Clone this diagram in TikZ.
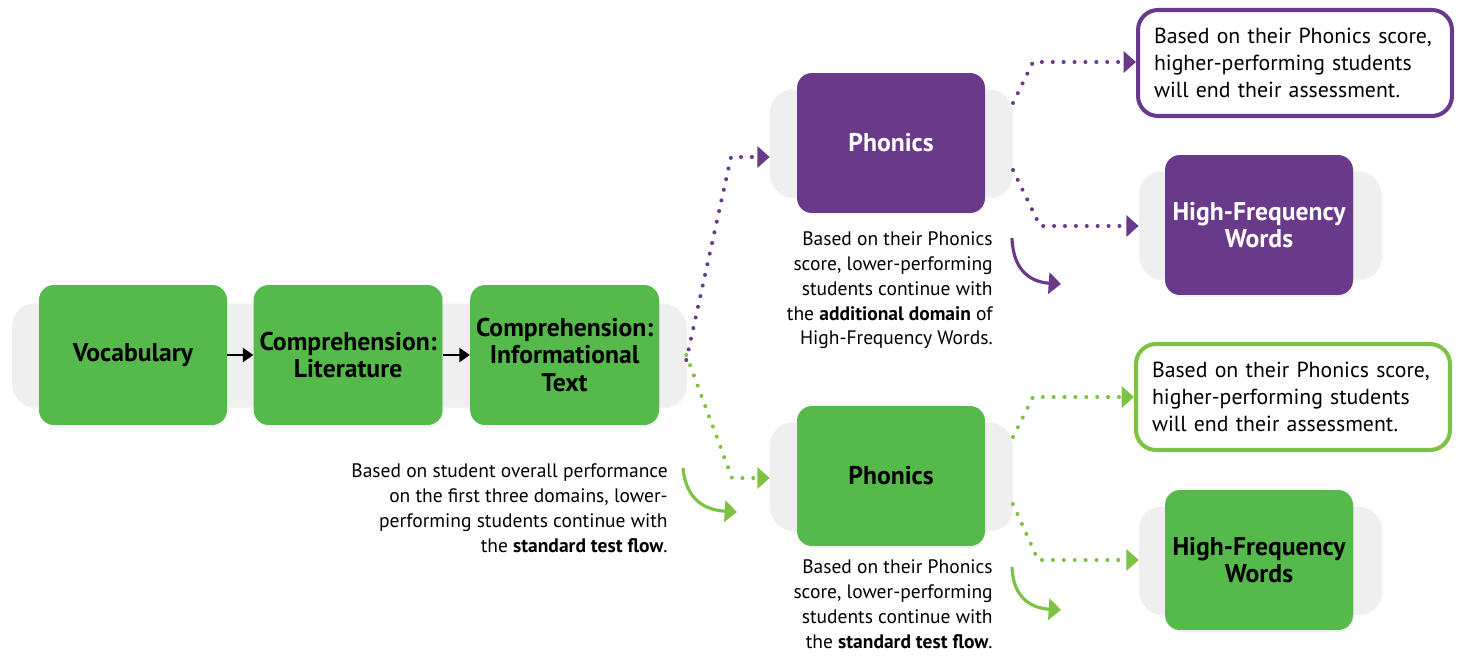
\documentclass[tikz,border=0pt]{standalone}
\usepackage{fontspec}
\setmainfont{PT Sans}
\usetikzlibrary{arrows.meta, positioning, shadows}
\usepackage{xcolor}
\definecolor{domgreen}{HTML}{56B94B}
\definecolor{dotgreen}{HTML}{7DC242}
\definecolor{dompurple}{HTML}{693A8A}
\definecolor{bargray}{HTML}{EFEFEF}

\begin{document}
\begin{tikzpicture}[
            x = 0.02cm,
            y = -0.02cm,
            > = {Triangle[length=7pt, width=12pt]},
            font = \fontsize{11.1}{14.2}\selectfont
        ]

        \tikzstyle{dombox}=[
            rectangle,
            rounded corners = 0.3cm,
            minimum width = 3.76cm,
            minimum height = 2.8cm,
            align = center,
            font = \fontsize{14.6}{15.5}\selectfont\bfseries,
            drop shadow = {opacity=0.12, shadow xshift=0.6pt, shadow yshift=-1pt}
        ]
        \tikzstyle{green dombox}=[dombox, fill = domgreen]
        \tikzstyle{purple dombox}=[dombox, fill = dompurple, text = white]
        \tikzstyle{grayband}=[
            rectangle,
            rounded corners = 0.45cm,
            fill = bargray,
            minimum width = 4.84cm,
            minimum height = 2.14cm,
            drop shadow = {opacity=0.1, shadow xshift=0.6pt, shadow yshift=-1pt}
        ]
        \tikzstyle{outcome}=[
            rectangle,
            rounded corners = 0.4cm,
            line width = 2.3pt,
            fill = white,
            align = left,
            minimum width = 6.28cm,
            minimum height = 2.12cm,
            text width = 5.64cm,
            font = \fontsize{12.4}{15.3}\selectfont
        ]
        \tikzstyle{sidenote}=[align = right, anchor = north east, inner sep = 0pt]
        \tikzstyle{dotline}=[
            line width = 2.3pt,
            line cap = round,
            dash pattern = on 0pt off 6.2pt,
            ->
        ]
        \tikzstyle{bendarrow}=[line width = 1.8pt, ->]

        \useasboundingbox (0,0) rectangle (1463,656);

        % first three domains
        \node[grayband, minimum width=13.48cm, minimum height=2.06cm] (flowbar) at (349,355) {};
        \node[green dombox] (voc) at (133,355) {Vocabulary};
        \node[green dombox] (lit) [right=0.52cm of voc] {Comprehension:\\Literature};
        \node[green dombox] (info) [right=0.54cm of lit] {Comprehension:\\Informational\\Text};

        \draw[-{Triangle[length=6pt, width=8pt]}, line width=1.3pt] (voc) -- (lit);
        \draw[-{Triangle[length=6pt, width=8pt]}, line width=1.3pt] (lit) -- (info);

        % phonics, purple branch
        \node[grayband] (phPbar) at (891,143) {};
        \node[purple dombox] (phP) at (891,143) {Phonics};
        \node[grayband] (hfPbar) at (1260,225) {};
        \node[purple dombox] (hfP) at (1259,225) {High-Frequency\\Words};
        \node[outcome, draw=dompurple] (endP) at (1295,63) {Based on their Phonics score,\\higher-performing students\\will end their assessment.};

        % phonics, green branch
        \node[grayband] (phGbar) at (891,476) {};
        \node[green dombox] (phG) at (891,476) {Phonics};
        \node[grayband] (hfGbar) at (1260,560) {};
        \node[green dombox] (hfG) at (1259,560) {High-Frequency\\Words};
        \node[outcome, draw=dotgreen] (endG) at (1293,397) {Based on their Phonics score,\\higher-performing students\\will end their assessment.};

        % dotted branches
        \draw[dotline, dompurple] ([yshift=-0.1cm]flowbar.east) -- (731,157) -- (phPbar.west |- 0,157);
        \draw[dotline, dotgreen] (flowbar.east) -- (732,478) -- (phGbar.west |- 0,478);
        \draw[dotline, dompurple] (1013,103) -- (1033,62) -- (endP.west |- 0,62);
        \draw[dotline, dompurple] (1013,170) -- (1040,226) -- (hfPbar.west |- 0,226);
        \draw[dotline, dotgreen] (1013,437) -- (1033,397) -- (endG.west |- 0,397);
        \draw[dotline, dotgreen] (1013,504) -- (1038,560) -- (hfGbar.west |- 0,560);

        % notes
        \node[sidenote] (noteL) at (668,463) {Based on student overall performance\\on the first three domains, lower-\\performing students continue with\\the \textbf{standard test flow}.};
        \node[sidenote] (noteP) at (993,231) {Based on their Phonics\\score, lower-performing\\students continue with\\the \textbf{additional domain} of\\High-Frequency Words.};
        \node[sidenote] (noteG) at (993,559) {Based on their Phonics\\score, lower-performing\\students continue with\\the \textbf{standard test flow}.};

        \coordinate (turnLa) at (683,468);
        \coordinate (turnLb) at (737,512);
        \coordinate (turnPa) at (1012,238);
        \coordinate (turnPb) at (1061,284);
        \coordinate (turnGa) at (1012,567);
        \coordinate (turnGb) at (1061,610);

        \draw[bendarrow, dotgreen] (turnLa) .. controls (686,500) and (705,510) .. (turnLb);
        \draw[bendarrow, dompurple] (turnPa) .. controls (1013,270) and (1030,282) .. (turnPb);
        \draw[bendarrow, dotgreen] (turnGa) .. controls (1013,597) and (1030,608) .. (turnGb);
    \end{tikzpicture}
\end{document}
